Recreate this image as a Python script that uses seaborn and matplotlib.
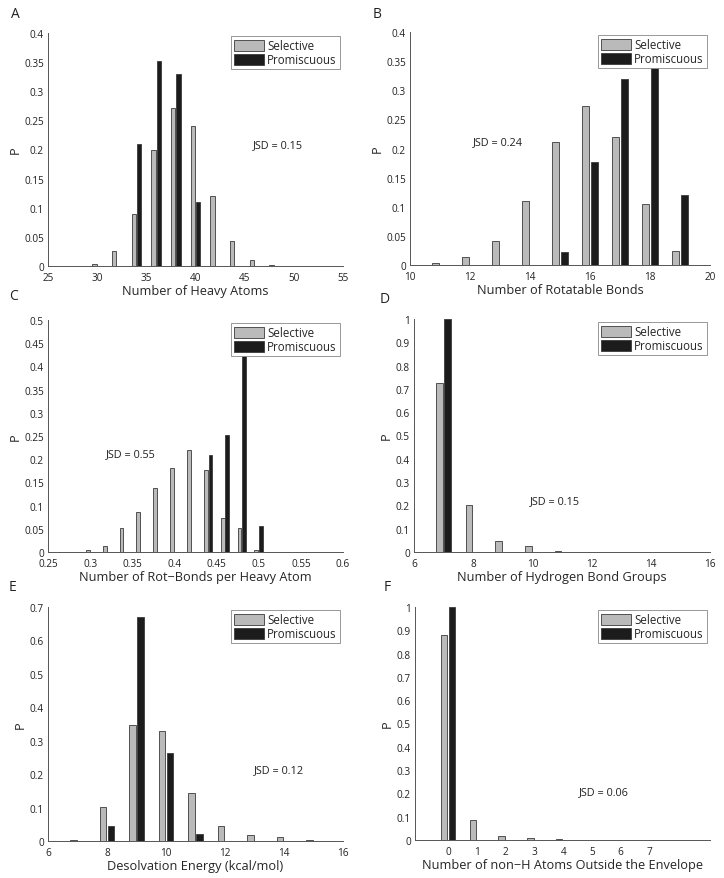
import numpy as np
import pandas as pd
import seaborn as sns
import matplotlib.pyplot as plt

sns.set_style("white")
plt.rcParams['font.family'] = ['Open Sans', 'DejaVu Sans']

# ---- data ----
heavy_sel_x = [30, 32, 34, 36, 38, 40, 42, 44, 46, 48]
heavy_sel_p = [0.003, 0.025, 0.09, 0.20, 0.271, 0.24, 0.12, 0.043, 0.01, 0.002]
heavy_pro_x = [34, 36, 38, 40]
heavy_pro_p = [0.21, 0.352, 0.33, 0.11]

rot_sel_x = [11, 12, 13, 14, 15, 16, 17, 18, 19]
rot_sel_p = [0.003, 0.013, 0.042, 0.11, 0.212, 0.273, 0.22, 0.105, 0.024]
rot_pro_x = [15, 16, 17, 18, 19]
rot_pro_p = [0.022, 0.176, 0.319, 0.363, 0.121]

ratio_sel_x = [0.30, 0.32, 0.34, 0.36, 0.38, 0.40, 0.42, 0.44, 0.46, 0.48, 0.50]
ratio_sel_p = [0.005, 0.013, 0.052, 0.086, 0.138, 0.181, 0.219, 0.177, 0.074, 0.051, 0.004]
ratio_pro_x = [0.44, 0.46, 0.48, 0.50]
ratio_pro_p = [0.209, 0.253, 0.483, 0.055]

hb_sel_x = [7, 8, 9, 10, 11]
hb_sel_p = [0.725, 0.202, 0.047, 0.025, 0.003]
hb_pro_x = [7]
hb_pro_p = [1.0]

desolv_sel_x = [7, 8, 9, 10, 11, 12, 13, 14, 15]
desolv_sel_p = [0.003, 0.102, 0.348, 0.33, 0.144, 0.045, 0.017, 0.012, 0.002]
desolv_pro_x = [8, 9, 10, 11]
desolv_pro_p = [0.044, 0.67, 0.264, 0.022]

out_sel_x = [0, 1, 2, 3, 4, 5]
out_sel_p = [0.88, 0.086, 0.019, 0.01, 0.006, 0.002]
out_pro_x = [0]
out_pro_p = [1.0]

jsd_values = [0.15, 0.24, 0.55, 0.15, 0.12, 0.06]
xlabels = ['Number of Heavy Atoms', 'Number of Rotatable Bonds',
           'Number of Rot\u2212Bonds per Heavy Atom', 'Number of Hydrogen Bond Groups',
           'Desolvation Energy (kcal/mol)', 'Number of non\u2212H Atoms Outside the Envelope']
letters = ['A', 'B', 'C', 'D', 'E', 'F']

panels = [
    (heavy_sel_x, heavy_sel_p, heavy_pro_x, heavy_pro_p),
    (rot_sel_x, rot_sel_p, rot_pro_x, rot_pro_p),
    (ratio_sel_x, ratio_sel_p, ratio_pro_x, ratio_pro_p),
    (hb_sel_x, hb_sel_p, hb_pro_x, hb_pro_p),
    (desolv_sel_x, desolv_sel_p, desolv_pro_x, desolv_pro_p),
    (out_sel_x, out_sel_p, out_pro_x, out_pro_p),
]

# axis setup per panel
xlims = [(25, 55), (10, 20), (0.25, 0.6), (6, 16), (6, 16), (-1.15, 9.1)]
xticks = [np.arange(25, 56, 5), np.arange(10, 21, 2), np.arange(0.25, 0.61, 0.05),
          np.arange(6, 17, 2), np.arange(6, 17, 2), np.arange(0, 8, 1)]
ylims = [0.4, 0.4, 0.5, 1.0, 0.7, 1.0]
ysteps = [0.05, 0.05, 0.05, 0.1, 0.1, 0.1]
jsd_pos = [(0.695, 0.52), (0.21, 0.528), (0.197, 0.422), (0.393, 0.219), (0.698, 0.303), (0.556, 0.206)]

# axes boxes in pixels: left, right, top, bottom
W, H = 724, 879
boxes = [(48, 343, 34, 267), (410, 710, 33, 266),
         (48, 343, 321, 553), (414, 710, 320, 553),
         (48, 343, 608, 842), (415, 710, 608, 841)]
letter_pos = [(15, 15), (377, 15), (13, 297), (385, 300), (13, 588), (387, 588)]

fig = plt.figure(figsize=(W / 100, H / 100), dpi=100)
palette = {'Selective': '#bababa', 'Promiscuous': '#1c1c1c'}

for i, (sx, sp, px, pp) in enumerate(panels):
    l, r, t, b = boxes[i]
    ax = fig.add_axes([l / W, 1 - b / H, (r - l) / W, (b - t) / H])
    df = pd.DataFrame({
        'x': list(sx) + list(px),
        'P': list(sp) + list(pp),
        'group': ['Selective'] * len(sx) + ['Promiscuous'] * len(px),
    })
    sns.barplot(data=df, x='x', y='P', hue='group', native_scale=True,
                hue_order=['Selective', 'Promiscuous'], palette=palette,
                width=0.56, gap=0.2, dodge=True, saturation=1,
                edgecolor='#3a3a3a', linewidth=0.6, ax=ax, legend=True)
    ax.set_xlim(*xlims[i])
    ax.set_xticks(xticks[i])
    if i == 2:
        ax.set_xticklabels(['0.25', '0.3', '0.35', '0.4', '0.45', '0.5', '0.55', '0.6'])
    else:
        ax.set_xticklabels([f'{v:g}' for v in xticks[i]])
    ax.set_ylim(0, ylims[i])
    yt = np.round(np.arange(0, ylims[i] + 1e-9, ysteps[i]), 2)
    ax.set_yticks(yt)
    ax.set_yticklabels([f'{v:g}' for v in yt])
    ax.set_xlabel(xlabels[i], fontsize=9.2, labelpad=1)
    ax.set_ylabel('P', fontsize=9.2, labelpad=2)
    ax.tick_params(direction='in', length=3, width=0.6, labelsize=7.2,
                   colors='#333333', labelcolor='#222222')
    ax.tick_params(axis='x', pad=4)
    ax.tick_params(axis='y', pad=3)
    for side in ['top', 'right']:
        ax.spines[side].set_visible(False)
    for side in ['left', 'bottom']:
        ax.spines[side].set_color('#555555')
        ax.spines[side].set_linewidth(0.7)
    ax.text(jsd_pos[i][0], jsd_pos[i][1], f'JSD = {jsd_values[i]:.2f}', transform=ax.transAxes,
            fontsize=7.8, va='center', ha='left', color='#222222')
    handles, labels = ax.get_legend_handles_labels()
    leg = ax.legend(handles, labels, loc='upper right', fontsize=8.3, frameon=True,
                    fancybox=False, framealpha=1, edgecolor='#888888',
                    handlelength=2.6, handleheight=1.1, handletextpad=0.3,
                    borderpad=0.25, labelspacing=0.1, borderaxespad=0.3)
    leg.get_frame().set_linewidth(0.6)
    leg.set_zorder(10)
    fig.text(letter_pos[i][0] / W, 1 - letter_pos[i][1] / H, letters[i], fontsize=10,
             ha='center', va='center', color='#222222')

fig.savefig('out.png', dpi=100)
